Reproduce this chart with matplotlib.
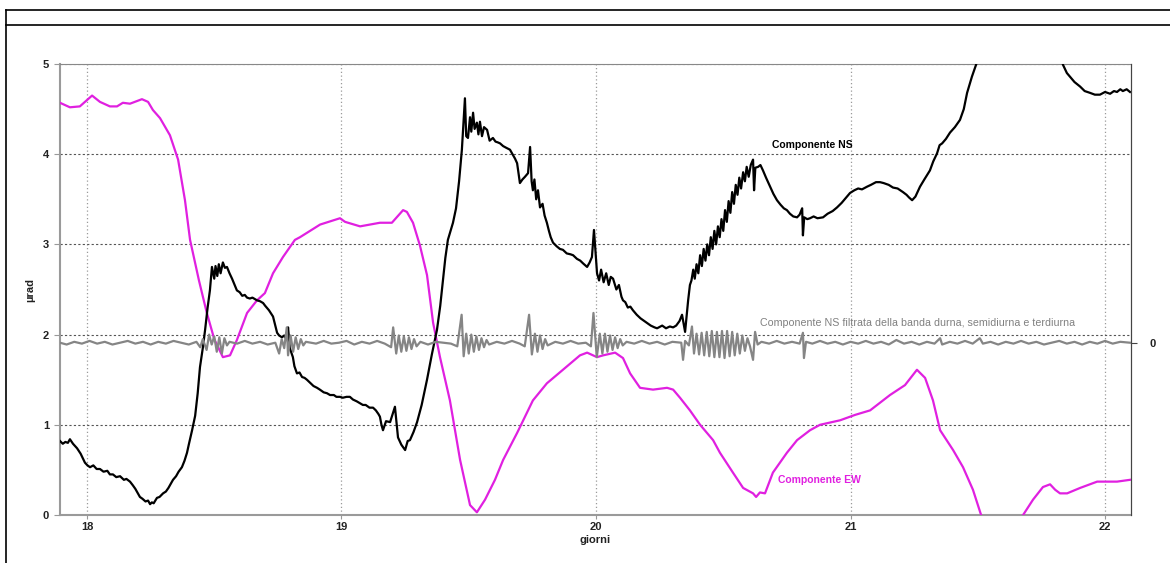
import matplotlib
matplotlib.use("Agg")
import matplotlib.pyplot as plt
from matplotlib.lines import Line2D

plt.rcParams['font.family'] = ['Liberation Sans', 'DejaVu Sans']

# ---------------- data ----------------
ns_days = [17.894, 17.905, 17.915, 17.925, 17.933, 17.945, 17.961, 17.975, 17.992, 18.002,
           18.012, 18.025, 18.038, 18.051, 18.065, 18.08, 18.09, 18.102, 18.115, 18.13,
           18.145, 18.155, 18.169, 18.18, 18.19, 18.2, 18.208, 18.218, 18.23, 18.24,
           18.248, 18.255, 18.262, 18.275, 18.285, 18.299, 18.31, 18.32, 18.338, 18.35,
           18.36, 18.373, 18.383, 18.393, 18.40, 18.413, 18.425, 18.435, 18.444, 18.455,
           18.464, 18.474, 18.483, 18.491, 18.50, 18.505, 18.512, 18.518, 18.525, 18.534,
           18.542, 18.550, 18.56, 18.57, 18.58, 18.589, 18.60, 18.61, 18.62, 18.629,
           18.64, 18.65, 18.668, 18.68, 18.692, 18.70, 18.715, 18.731, 18.74, 18.747,
           18.755, 18.766, 18.775, 18.786, 18.790, 18.797, 18.809, 18.815, 18.825, 18.835,
           18.845, 18.855, 18.864, 18.875, 18.89, 18.904, 18.915, 18.93, 18.943, 18.955,
           18.97, 18.98, 18.994, 19.005, 19.02, 19.033, 19.045, 19.06, 19.072, 19.084,
           19.095, 19.11, 19.124, 19.135, 19.145, 19.151, 19.157, 19.163, 19.175, 19.191,
           19.210, 19.222, 19.235, 19.250, 19.260, 19.269, 19.283, 19.297, 19.315, 19.336,
           19.355, 19.375, 19.388, 19.399, 19.408, 19.418, 19.438, 19.450, 19.462, 19.473,
           19.485, 19.490, 19.497, 19.505, 19.510, 19.517, 19.523, 19.532, 19.538, 19.544,
           19.552, 19.560, 19.572, 19.582, 19.595, 19.605, 19.615, 19.623, 19.635, 19.648,
           19.662, 19.672, 19.682, 19.690, 19.701, 19.711, 19.721, 19.733, 19.741, 19.747,
           19.752, 19.758, 19.765, 19.772, 19.780, 19.790, 19.798, 19.807, 19.815, 19.822,
           19.831, 19.845, 19.858, 19.870, 19.885, 19.90, 19.910, 19.925, 19.938, 19.949,
           19.965, 19.975, 19.984, 19.992, 20.004, 20.012, 20.020, 20.030, 20.040, 20.050,
           20.058, 20.067, 20.08, 20.09, 20.10, 20.106, 20.115, 20.125, 20.135, 20.145,
           20.16, 20.175, 20.19, 20.200, 20.215, 20.23, 20.240, 20.26, 20.275, 20.29,
           20.303, 20.315, 20.328, 20.338, 20.350, 20.358, 20.362, 20.369, 20.375, 20.382,
           20.388, 20.395, 20.402, 20.409, 20.416, 20.423, 20.430, 20.437, 20.444, 20.451,
           20.458, 20.465, 20.472, 20.479, 20.486, 20.493, 20.500, 20.507, 20.514, 20.521,
           20.528, 20.535, 20.542, 20.549, 20.556, 20.563, 20.570, 20.578, 20.585, 20.592,
           20.600, 20.608, 20.617, 20.621, 20.626, 20.637, 20.646, 20.656, 20.668, 20.684,
           20.697, 20.711, 20.725, 20.738, 20.750, 20.762, 20.775, 20.790, 20.80, 20.810,
           20.813, 20.818, 20.83, 20.841, 20.855, 20.87, 20.892, 20.91, 20.93, 20.947,
           20.965, 20.98, 20.998, 21.015, 21.03, 21.045, 21.065, 21.08, 21.10, 21.116,
           21.13, 21.15, 21.167, 21.185, 21.206, 21.22, 21.23, 21.242, 21.255, 21.273,
           21.29, 21.312, 21.325, 21.340, 21.350, 21.360, 21.375, 21.391, 21.41, 21.43,
           21.445, 21.458, 21.477, 21.493, 21.55, 21.666, 21.78, 21.835, 21.85, 21.862,
           21.88, 21.902, 21.92, 21.941, 21.96, 21.980, 22.00, 22.02, 22.035, 22.047,
           22.06, 22.07, 22.085, 22.098]
ns_vals = [0.82, 0.79, 0.81, 0.80, 0.84, 0.79, 0.74, 0.68, 0.58, 0.55,
           0.53, 0.55, 0.51, 0.51, 0.48, 0.49, 0.45, 0.45, 0.42, 0.43,
           0.39, 0.40, 0.37, 0.33, 0.29, 0.24, 0.20, 0.18, 0.15, 0.16,
           0.12, 0.14, 0.13, 0.19, 0.20, 0.24, 0.26, 0.30, 0.39, 0.43,
           0.48, 0.53, 0.60, 0.69, 0.78, 0.94, 1.10, 1.35, 1.64, 1.85,
           2.05, 2.30, 2.49, 2.75, 2.62, 2.76, 2.65, 2.78, 2.68, 2.80,
           2.74, 2.75, 2.68, 2.62, 2.55, 2.49, 2.47, 2.43, 2.44, 2.41,
           2.40, 2.41, 2.38, 2.37, 2.35, 2.32, 2.27, 2.20, 2.10, 2.02,
           1.99, 1.97, 1.99, 1.94, 2.08, 1.85, 1.75, 1.65, 1.57, 1.58,
           1.53, 1.52, 1.50, 1.47, 1.43, 1.41, 1.39, 1.36, 1.35, 1.33,
           1.33, 1.31, 1.31, 1.30, 1.31, 1.31, 1.28, 1.26, 1.24, 1.22,
           1.22, 1.19, 1.19, 1.16, 1.12, 1.09, 1.00, 0.94, 1.04, 1.03,
           1.20, 0.86, 0.78, 0.72, 0.82, 0.83, 0.92, 1.03, 1.22, 1.50,
           1.78, 2.05, 2.32, 2.61, 2.85, 3.05, 3.24, 3.40, 3.70, 4.05,
           4.62, 4.20, 4.18, 4.41, 4.25, 4.46, 4.28, 4.35, 4.22, 4.36,
           4.20, 4.30, 4.27, 4.15, 4.18, 4.14, 4.13, 4.12, 4.09, 4.07,
           4.05, 4.00, 3.95, 3.90, 3.68, 3.72, 3.75, 3.79, 4.08, 3.70,
           3.60, 3.72, 3.50, 3.60, 3.41, 3.45, 3.32, 3.24, 3.15, 3.08,
           3.02, 2.98, 2.95, 2.94, 2.90, 2.89, 2.88, 2.84, 2.82, 2.79,
           2.75, 2.80, 2.86, 3.16, 2.68, 2.60, 2.72, 2.58, 2.68, 2.55,
           2.64, 2.62, 2.50, 2.55, 2.42, 2.38, 2.36, 2.30, 2.31, 2.27,
           2.22, 2.18, 2.15, 2.13, 2.10, 2.08, 2.07, 2.10, 2.07, 2.09,
           2.08, 2.10, 2.15, 2.22, 2.03, 2.27, 2.38, 2.55, 2.60, 2.72,
           2.62, 2.78, 2.68, 2.88, 2.76, 2.95, 2.82, 3.00, 2.88, 3.08,
           2.95, 3.15, 3.00, 3.20, 3.08, 3.28, 3.15, 3.38, 3.25, 3.48,
           3.35, 3.58, 3.45, 3.66, 3.55, 3.74, 3.62, 3.80, 3.70, 3.86,
           3.75, 3.88, 3.94, 3.60, 3.85, 3.86, 3.88, 3.82, 3.74, 3.64,
           3.56, 3.49, 3.44, 3.40, 3.38, 3.34, 3.31, 3.30, 3.33, 3.40,
           3.10, 3.30, 3.28, 3.29, 3.31, 3.29, 3.30, 3.34, 3.37, 3.41,
           3.46, 3.51, 3.57, 3.60, 3.62, 3.61, 3.64, 3.66, 3.69, 3.69,
           3.68, 3.66, 3.63, 3.62, 3.58, 3.55, 3.52, 3.49, 3.53, 3.64,
           3.72, 3.82, 3.92, 4.01, 4.10, 4.12, 4.17, 4.24, 4.30, 4.38,
           4.50, 4.68, 4.86, 4.99, 5.5, 5.7, 5.5, 4.99, 4.90, 4.86,
           4.80, 4.75, 4.70, 4.68, 4.66, 4.66, 4.69, 4.67, 4.70, 4.69,
           4.72, 4.70, 4.72, 4.69]

ew_days = [17.894, 17.933, 17.972, 18.020, 18.051, 18.090, 18.118, 18.141, 18.169, 18.216,
           18.240, 18.259, 18.287, 18.326, 18.358, 18.385, 18.405, 18.44, 18.47, 18.50,
           18.534, 18.562, 18.589, 18.629, 18.668, 18.699, 18.731, 18.770, 18.817,
           18.837, 18.916, 18.994, 19.014, 19.073, 19.151, 19.198, 19.242, 19.257, 19.281,
           19.308, 19.336, 19.360, 19.387, 19.426, 19.466, 19.505, 19.532, 19.564, 19.603,
           19.635, 19.690, 19.752, 19.807, 19.870, 19.937, 19.965, 20.004, 20.028, 20.075,
           20.106, 20.134, 20.173, 20.224, 20.279, 20.303, 20.330, 20.369, 20.409, 20.460,
           20.487, 20.538, 20.578, 20.617, 20.629, 20.644, 20.664, 20.695, 20.750, 20.790,
           20.841, 20.880, 20.959, 21.018, 21.077, 21.155, 21.214, 21.261, 21.293, 21.324,
           21.352, 21.403, 21.442, 21.481, 21.513, 21.587, 21.678, 21.717, 21.756, 21.784,
           21.804, 21.823, 21.851, 21.902, 21.969, 22.047, 22.098]
ew_vals = [4.57, 4.52, 4.53, 4.65, 4.58, 4.53, 4.53, 4.57, 4.56, 4.61,
           4.58, 4.49, 4.40, 4.21, 3.94, 3.49, 3.05, 2.60, 2.25, 1.95,
           1.75, 1.77, 1.94, 2.24, 2.38, 2.46, 2.68, 2.86, 3.05,
           3.08, 3.22, 3.29, 3.25, 3.20, 3.24, 3.24, 3.38, 3.36, 3.24,
           2.99, 2.66, 2.13, 1.75, 1.27, 0.61, 0.11, 0.03, 0.17, 0.39,
           0.61, 0.91, 1.27, 1.46, 1.61, 1.77, 1.80, 1.75, 1.77, 1.80,
           1.74, 1.57, 1.41, 1.39, 1.41, 1.39, 1.30, 1.16, 1.00, 0.83,
           0.69, 0.47, 0.30, 0.24, 0.20, 0.25, 0.24, 0.47, 0.69, 0.83,
           0.94, 1.00, 1.05, 1.11, 1.16, 1.33, 1.44, 1.61, 1.52, 1.27,
           0.94, 0.72, 0.53, 0.28, 0.00, -0.35, 0.00, 0.17, 0.31, 0.34,
           0.28, 0.24, 0.24, 0.30, 0.37, 0.37, 0.39]

flt_days = [17.894, 17.92, 17.95, 17.98, 18.01, 18.04, 18.07, 18.10, 18.13, 18.16,
            18.19, 18.22, 18.25, 18.28, 18.31, 18.34, 18.37, 18.40, 18.43,
            18.445, 18.455, 18.47, 18.48, 18.49, 18.50, 18.51, 18.52, 18.53, 18.54, 18.55, 18.56,
            18.59, 18.62, 18.65, 18.68, 18.71, 18.74,
            18.755, 18.765, 18.775, 18.785, 18.79, 18.80, 18.81, 18.82, 18.83, 18.84, 18.85, 18.86,
            18.90, 18.93, 18.96, 18.99, 19.02, 19.05, 19.08, 19.11, 19.14, 19.17, 19.195,
            19.203, 19.215, 19.225, 19.235, 19.245, 19.255, 19.265, 19.275, 19.285, 19.295, 19.31,
            19.34, 19.37, 19.40, 19.43, 19.455,
            19.472, 19.48, 19.49, 19.50, 19.51, 19.52, 19.53, 19.54, 19.55, 19.56, 19.57, 19.58,
            19.61, 19.64, 19.67, 19.70, 19.72,
            19.737, 19.748, 19.76, 19.77, 19.78, 19.79, 19.80, 19.81,
            19.84, 19.87, 19.90, 19.93, 19.96, 19.98,
            19.99, 20.003, 20.015, 20.025, 20.035, 20.045, 20.055, 20.065, 20.075, 20.085,
            20.095, 20.105, 20.12,
            20.15, 20.18, 20.21, 20.24, 20.27, 20.30, 20.335,
            20.342, 20.35, 20.365, 20.377, 20.385, 20.395, 20.405, 20.415, 20.425, 20.435,
            20.445, 20.455, 20.465, 20.475, 20.485, 20.495, 20.505, 20.515, 20.525, 20.535,
            20.545, 20.555, 20.565, 20.575, 20.585, 20.595, 20.605, 20.617, 20.625, 20.635, 20.65,
            20.68, 20.71, 20.74, 20.77, 20.80, 20.813, 20.817, 20.825,
            20.85, 20.88, 20.91, 20.94, 20.97, 21.00, 21.03, 21.06, 21.09, 21.12,
            21.15, 21.18, 21.21, 21.24, 21.27, 21.30, 21.33, 21.352, 21.36, 21.39,
            21.42, 21.45, 21.48, 21.508, 21.52, 21.55, 21.58, 21.61, 21.64, 21.67,
            21.70, 21.73, 21.76, 21.79, 21.82, 21.85, 21.88, 21.91, 21.94, 21.97,
            22.00, 22.03, 22.06, 22.098]
flt_vals = [0.00, -0.02, 0.01, -0.01, 0.02, -0.01, 0.01, -0.02, 0.00, 0.02,
            -0.01, 0.01, -0.02, 0.01, -0.01, 0.02, 0.00, -0.02, 0.01,
            -0.05, 0.04, -0.08, 0.09, -0.02, 0.07, -0.10, 0.06, -0.12, 0.05, -0.03, 0.01,
            -0.01, 0.02, -0.01, 0.01, -0.02, 0.00,
            -0.12, 0.04, -0.06, 0.17, -0.14, 0.08, -0.10, 0.06, -0.07, 0.04, -0.03, 0.01,
            -0.01, 0.02, -0.01, 0.00, 0.02, -0.02, 0.01, -0.01, 0.02, -0.01, -0.05,
            0.17, -0.12, 0.08, -0.10, 0.07, -0.09, 0.06, -0.07, 0.04, -0.04, 0.01,
            -0.02, 0.01, 0.00, -0.01, -0.04,
            0.31, -0.15, 0.10, -0.12, 0.09, -0.10, 0.07, -0.08, 0.05, -0.05, 0.03, -0.02,
            0.01, -0.01, 0.02, -0.01, -0.04,
            0.31, -0.13, 0.10, -0.10, 0.08, -0.07, 0.04, -0.03,
            0.01, -0.01, 0.02, -0.01, 0.00, -0.04,
            0.33, -0.16, 0.10, -0.12, 0.10, -0.10, 0.08, -0.08, 0.06, -0.06,
            0.04, -0.03, 0.01,
            -0.01, 0.02, -0.01, 0.01, -0.02, 0.01, 0.00,
            -0.19, 0.02, -0.03, 0.18, -0.12, 0.10, -0.13, 0.11, -0.14, 0.12,
            -0.15, 0.13, -0.16, 0.12, -0.16, 0.13, -0.17, 0.13, -0.15, 0.12,
            -0.14, 0.10, -0.12, 0.08, -0.09, 0.05, -0.04, -0.19, 0.12, -0.02, 0.01,
            -0.01, 0.02, -0.01, 0.01, -0.01, 0.11, -0.17, 0.01,
            -0.01, 0.02, -0.01, 0.01, -0.02, 0.01, -0.01, 0.02, -0.01, 0.01,
            -0.02, 0.03, -0.01, 0.01, -0.02, 0.01, -0.01, 0.05, -0.02, 0.01,
            -0.01, 0.02, -0.01, 0.05, -0.01, 0.01, -0.02, 0.01, -0.01, 0.02,
            -0.01, 0.01, -0.02, 0.00, 0.02, -0.01, 0.01, -0.02, 0.01, -0.01,
            0.02, -0.01, 0.01, 0.00]

x_ticks = [18, 19, 20, 21, 22]
y_ticks = [0, 1, 2, 3, 4, 5]
flt_zero_level = 1.91  # left-axis level at which the filtered trace's zero sits

# ---------------- figure ----------------
fig = plt.figure(figsize=(11.70, 5.63), dpi=100)
W, H = 1170, 563
ax = fig.add_axes([60 / W, 1 - 515 / H, (1131 - 60) / W, (515 - 64) / H])

MAG = '#e020e0'
GRAY = '#858585'

ax.plot(ns_days, ns_vals, color='black', lw=1.6, zorder=4)
ax.plot(ew_days, ew_vals, color=MAG, lw=1.6, zorder=3)

ax.set_xlim(17.894, 22.102)
ax.set_ylim(0, 5)
ax.set_xticks(x_ticks)
ax.set_yticks(y_ticks)
ax.set_xticklabels([str(t) for t in x_ticks], fontsize=8, fontweight='bold', color='#222222')
ax.set_yticklabels([str(t) for t in y_ticks], fontsize=8, fontweight='bold', color='#222222')
ax.tick_params(axis='x', length=3, color='#999999', pad=2)
ax.tick_params(axis='y', length=4, color='#999999', pad=4)

ax.xaxis.grid(True, linestyle=(0, (1, 2)), color='#9a9a9a', lw=0.9)
ax.yaxis.grid(True, linestyle=(0, (2, 2)), color='#555555', lw=0.8)
ax.set_axisbelow(True)

for s in ['left', 'bottom']:
    ax.spines[s].set_color('#9a9a9a')
    ax.spines[s].set_linewidth(1.5)
ax.spines['top'].set_color('#888888')
ax.spines['right'].set_color('#444444')

ax.set_xlabel('giorni', fontsize=8, fontweight='bold', color='#222222', labelpad=2)
ax.set_ylabel('µrad', fontsize=8, fontweight='bold', color='#222222', labelpad=5)

# filtered trace on its own right-hand scale
ax2 = ax.twinx()
ax2.plot(flt_days, flt_vals, color=GRAY, lw=1.6, zorder=5)
ax2.set_ylim(0 - flt_zero_level, 5 - flt_zero_level)
ax2.set_xlim(17.894, 22.102)
ax2.set_yticks([0])
ax2.set_yticklabels(['0'], fontsize=8, fontweight='bold', color='#222222')
ax2.tick_params(axis='y', length=4, color='#444444', pad=9)
for s in ['left', 'bottom', 'top']:
    ax2.spines[s].set_visible(False)
ax2.spines['right'].set_color('#444444')

# annotations
ax.text(20.849, 4.10, 'Componente NS', fontsize=7.5, fontweight='bold', color='black',
        ha='center', va='center', zorder=6)
ax.text(21.265, 2.13, 'Componente NS filtrata della banda durna, semidiurna e terdiurna',
        fontsize=7.7, color='#808080', ha='center', va='center', zorder=6)
ax.text(20.876, 0.39, 'Componente EW', fontsize=7.5, fontweight='bold', color=MAG,
        ha='center', va='center', zorder=6)

# outer frame
fx = 6 / W
fig.add_artist(Line2D([fx, fx], [0, 1 - 10 / H], transform=fig.transFigure, color='black', lw=1.2))
fig.add_artist(Line2D([fx, 1], [1 - 10 / H, 1 - 10 / H], transform=fig.transFigure, color='black', lw=1.2))
fig.add_artist(Line2D([fx, 1], [1 - 25 / H, 1 - 25 / H], transform=fig.transFigure, color='black', lw=1.2))

fig.savefig('out.png', dpi=100)
